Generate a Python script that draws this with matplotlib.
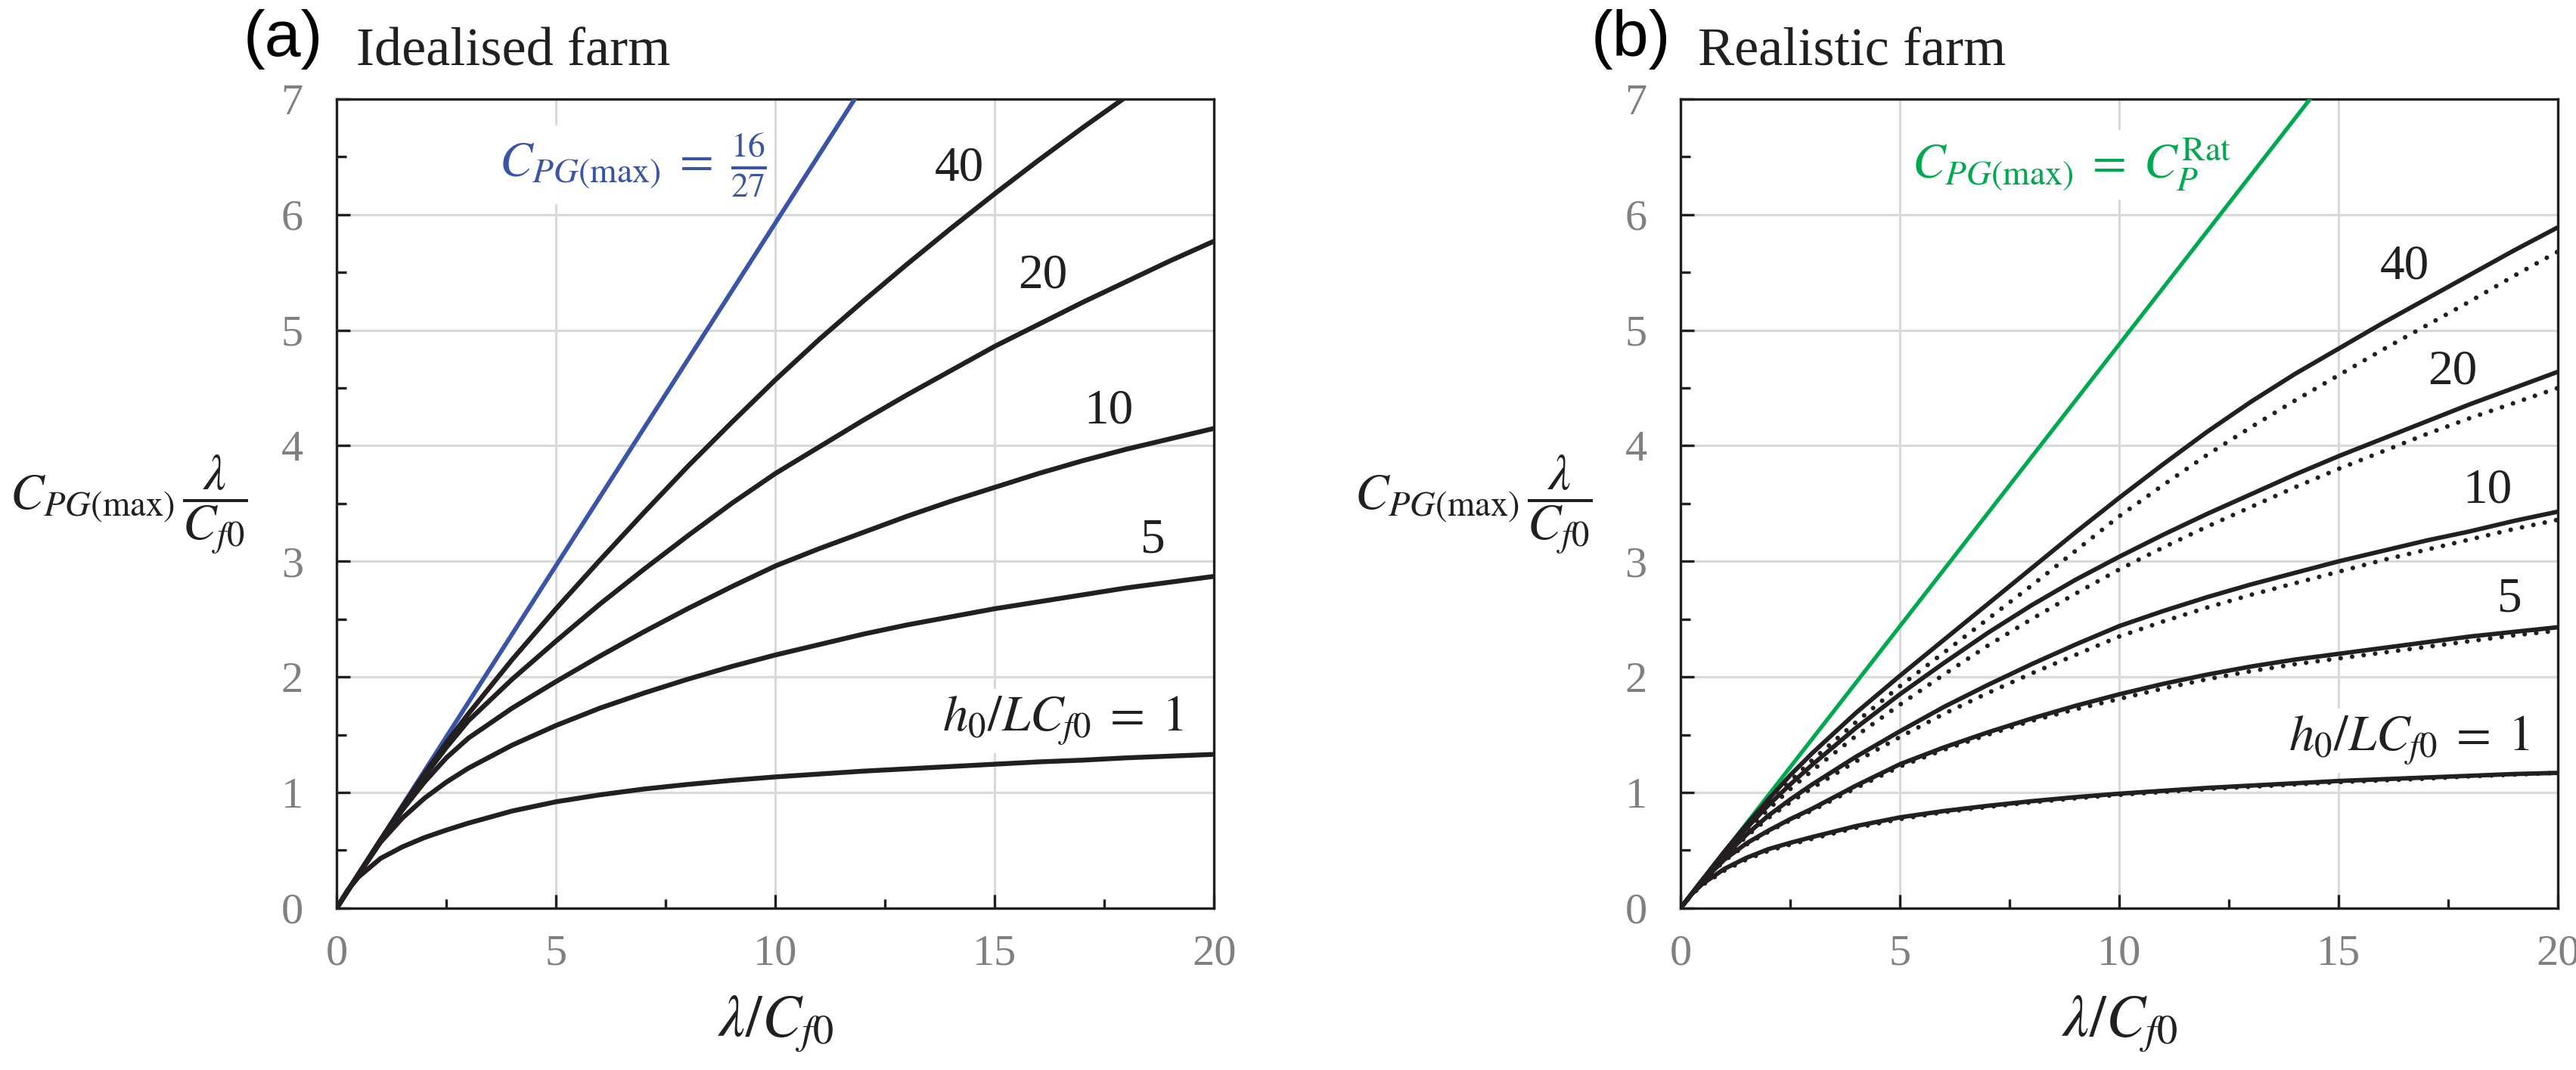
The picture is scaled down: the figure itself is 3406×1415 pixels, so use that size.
import matplotlib.pyplot as plt
from matplotlib.ticker import MultipleLocator

plt.rcParams['font.family'] = ['Liberation Serif', 'DejaVu Serif']
plt.rcParams['mathtext.fontset'] = 'stix'

# lambda / C_f0 sample points
lam = [0, 0.25, 0.5, 1, 1.5, 2, 2.5, 3, 4, 5, 6, 7, 8, 9, 10,
       11, 12, 13, 14, 15, 16, 17, 18, 19, 20]

# (a) idealised farm, one curve per h0/LCf0
ideal_h1 = [0, 0.155, 0.27, 0.43, 0.53, 0.61, 0.675, 0.735, 0.84, 0.92, 0.98, 1.03,
            1.07, 1.105, 1.135, 1.16, 1.185, 1.205, 1.225, 1.245, 1.265, 1.28, 1.30,
            1.315, 1.33]
ideal_h5 = [0, 0.148, 0.29, 0.57, 0.78, 0.95, 1.09, 1.21, 1.41, 1.58, 1.73, 1.86,
            1.98, 2.09, 2.19, 2.28, 2.37, 2.45, 2.52, 2.59, 2.65, 2.71, 2.77, 2.82, 2.87]
ideal_h10 = [0, 0.148, 0.295, 0.58, 0.85, 1.09, 1.30, 1.47, 1.73, 1.96, 2.18, 2.39,
             2.59, 2.78, 2.96, 3.11, 3.25, 3.39, 3.52, 3.64, 3.76, 3.87, 3.97, 4.06, 4.15]
ideal_h20 = [0, 0.148, 0.296, 0.59, 0.87, 1.14, 1.39, 1.62, 1.98, 2.31, 2.63, 2.93,
             3.22, 3.50, 3.76, 3.99, 4.22, 4.44, 4.65, 4.86, 5.05, 5.24, 5.42, 5.60, 5.77]
lam_h40 = lam[:23]
ideal_h40 = [0, 0.148, 0.296, 0.59, 0.88, 1.16, 1.43, 1.68, 2.15, 2.59, 3.01, 3.42,
             3.82, 4.20, 4.57, 4.92, 5.25, 5.57, 5.88, 6.18, 6.47, 6.75, 7.02]
betz_x = [0, 11.81]
betz_y = [0, 7.0]

# (b) realistic farm, solid and dotted curves
real_h1 = [0, 0.12, 0.21, 0.34, 0.435, 0.51, 0.565, 0.615, 0.71, 0.785, 0.84, 0.885,
           0.925, 0.96, 0.99, 1.015, 1.04, 1.06, 1.08, 1.10, 1.115, 1.13, 1.145, 1.16, 1.17]
real_h1_dot = [0, 0.115, 0.20, 0.325, 0.42, 0.495, 0.55, 0.60, 0.695, 0.77, 0.83,
               0.875, 0.915, 0.95, 0.98, 1.005, 1.03, 1.05, 1.07, 1.09, 1.105, 1.12,
               1.14, 1.155, 1.17]
real_h5 = [0, 0.12, 0.232, 0.42, 0.56, 0.67, 0.77, 0.86, 1.06, 1.245, 1.39, 1.52,
           1.64, 1.75, 1.85, 1.94, 2.02, 2.09, 2.15, 2.20, 2.25, 2.30, 2.35, 2.39, 2.43]
real_h5_dot = [0, 0.117, 0.227, 0.41, 0.55, 0.66, 0.76, 0.845, 1.04, 1.225, 1.37,
               1.50, 1.62, 1.72, 1.81, 1.90, 1.98, 2.05, 2.11, 2.16, 2.21, 2.26, 2.31,
               2.36, 2.40]
real_h10 = [0, 0.12, 0.238, 0.45, 0.635, 0.80, 0.94, 1.07, 1.31, 1.53, 1.74, 1.93,
            2.11, 2.28, 2.44, 2.57, 2.69, 2.80, 2.90, 3.00, 3.09, 3.18, 3.26, 3.35, 3.43]
real_h10_dot = [0, 0.118, 0.234, 0.44, 0.62, 0.78, 0.915, 1.04, 1.27, 1.48, 1.68,
                1.86, 2.03, 2.19, 2.35, 2.48, 2.60, 2.71, 2.81, 2.91, 3.01, 3.10, 3.19,
                3.28, 3.36]
real_h20 = [0, 0.123, 0.245, 0.475, 0.69, 0.89, 1.07, 1.24, 1.56, 1.85, 2.12, 2.38,
            2.62, 2.84, 3.04, 3.23, 3.41, 3.58, 3.75, 3.91, 4.06, 4.21, 4.36, 4.50, 4.64]
real_h20_dot = [0, 0.121, 0.24, 0.46, 0.665, 0.855, 1.03, 1.19, 1.49, 1.76, 2.02,
                2.27, 2.50, 2.72, 2.93, 3.12, 3.30, 3.47, 3.64, 3.80, 3.95, 4.10, 4.24,
                4.37, 4.50]
real_h40 = [0, 0.124, 0.247, 0.49, 0.72, 0.94, 1.15, 1.34, 1.69, 2.01, 2.32, 2.63,
            2.94, 3.25, 3.55, 3.84, 4.12, 4.38, 4.62, 4.84, 5.06, 5.27, 5.48, 5.69, 5.89]
real_h40_dot = [0, 0.122, 0.242, 0.475, 0.695, 0.90, 1.10, 1.28, 1.61, 1.92, 2.21,
                2.50, 2.79, 3.09, 3.39, 3.66, 3.92, 4.16, 4.39, 4.61, 4.83, 5.04, 5.25,
                5.47, 5.68]
rated_x = [0, 14.35]
rated_y = [0, 7.0]

INK = '#231f20'
BLUE = '#3b55a6'
GREEN = '#00a84f'
GREY = '#808080'
GRID = '#d9d9d9'

fig = plt.figure(figsize=(34.06, 14.15), dpi=100)
ax1 = fig.add_axes([0.1307, 0.1513, 0.3406, 0.7562])
ax2 = fig.add_axes([0.6524, 0.1513, 0.3406, 0.7562])


def style_axes(ax):
    ax.set_xlim(0, 20)
    ax.set_ylim(0, 7)
    ax.xaxis.set_major_locator(MultipleLocator(5))
    ax.xaxis.set_minor_locator(MultipleLocator(2.5))
    ax.yaxis.set_major_locator(MultipleLocator(1))
    ax.yaxis.set_minor_locator(MultipleLocator(0.5))
    ax.grid(True, which='major', color=GRID, lw=2.2)
    ax.set_axisbelow(True)
    ax.tick_params(which='both', direction='in', top=False, right=False,
                   width=2.4, color=INK)
    ax.tick_params(which='major', length=13, labelsize=42, labelcolor=GREY)
    ax.tick_params(which='minor', length=9)
    ax.tick_params(axis='x', which='major', pad=25)
    ax.tick_params(axis='y', which='major', pad=32)
    for sp in ax.spines.values():
        sp.set_linewidth(2.4)
        sp.set_color(INK)
    ax.text(0.5, -0.143, r'$\lambda/C_{f0}$', transform=ax.transAxes,
            ha='center', va='center', fontsize=56, color=INK)


ylab = r'$C_{PG(\mathrm{max})}\,\dfrac{\lambda}{C_{f0}}$'
hlab = r'$h_0/LC_{f0}\;=\;1$'
box = dict(facecolor='white', edgecolor='none', pad=6)

# (a) idealised farm
style_axes(ax1)
ax1.plot(betz_x, betz_y, color=BLUE, lw=4.2, solid_capstyle='round', zorder=3)
for ys in [ideal_h1, ideal_h5, ideal_h10, ideal_h20]:
    ax1.plot(lam, ys, color=INK, lw=4.6, solid_capstyle='round', zorder=4)
ax1.plot(lam_h40, ideal_h40, color=INK, lw=4.6, solid_capstyle='round', zorder=4)

ax1.text(9.8, 6.43, r'$C_{PG(\mathrm{max})}\;=\;\frac{16}{27}$', color=BLUE,
         fontsize=47, ha='right', va='center', bbox=box, zorder=2)
ax1.text(14.2, 6.4, '40', fontsize=47, ha='center', va='center', color=INK)
ax1.text(16.1, 5.47, '20', fontsize=47, ha='center', va='center', color=INK)
ax1.text(17.6, 4.3, '10', fontsize=47, ha='center', va='center', color=INK)
ax1.text(18.6, 3.18, '5', fontsize=47, ha='center', va='center', color=INK)
ax1.text(16.55, 1.62, hlab, fontsize=48, ha='center', va='center', color=INK,
         bbox=box, zorder=2)

# (b) realistic farm
style_axes(ax2)
ax2.plot(rated_x, rated_y, color=GREEN, lw=3.8, solid_capstyle='round', zorder=3)
for ys in [real_h1, real_h5, real_h10, real_h20, real_h40]:
    ax2.plot(lam, ys, color=INK, lw=4.2, solid_capstyle='round', zorder=4)
for ys in [real_h1_dot, real_h5_dot, real_h10_dot, real_h20_dot, real_h40_dot]:
    ax2.plot(lam, ys, color=INK, lw=4.4, linestyle=(0, (0.01, 2.5)),
             dash_capstyle='round', zorder=4)

ax2.text(12.55, 6.43, r'$C_{PG(\mathrm{max})}\;=\;C_P^{\mathrm{Rat}}$', color=GREEN,
         fontsize=47, ha='right', va='center', bbox=box, zorder=2)
ax2.text(16.5, 5.55, '40', fontsize=47, ha='center', va='center', color=INK)
ax2.text(17.6, 4.64, '20', fontsize=47, ha='center', va='center', color=INK)
ax2.text(18.4, 3.61, '10', fontsize=47, ha='center', va='center', color=INK)
ax2.text(18.9, 2.67, '5', fontsize=47, ha='center', va='center', color=INK)
ax2.text(16.6, 1.45, hlab, fontsize=48, ha='center', va='center', color=INK,
         bbox=box, zorder=2)

# y labels and panel titles
fig.text(0.05, 0.528, ylab, fontsize=48, ha='center', va='center', color=INK)
fig.text(0.572, 0.528, ylab, fontsize=48, ha='center', va='center', color=INK)
fig.text(0.0945, 0.9477, '(a)', fontsize=62, family='Liberation Sans',
         ha='left', va='baseline', color='black')
fig.text(0.1383, 0.9392, 'Idealised farm', fontsize=52, ha='left',
         va='baseline', color=INK)
fig.text(0.6175, 0.9477, '(b)', fontsize=62, family='Liberation Sans',
         ha='left', va='baseline', color='black')
fig.text(0.659, 0.9392, 'Realistic farm', fontsize=52, ha='left',
         va='baseline', color=INK)

fig.savefig('out.png', dpi=100)
